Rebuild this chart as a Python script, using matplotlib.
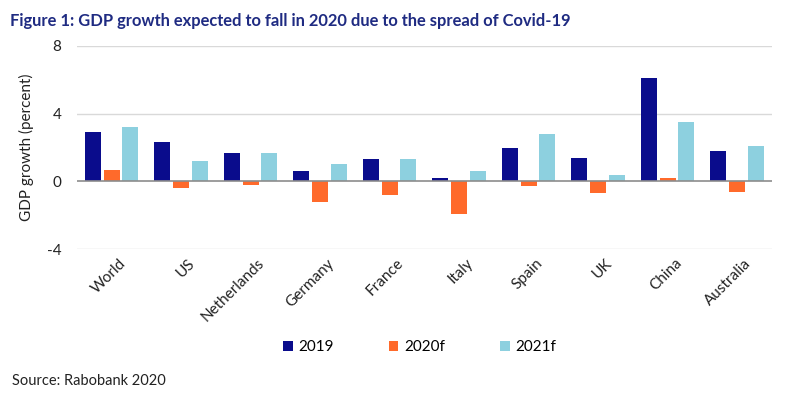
import numpy as np
import matplotlib
matplotlib.use("Agg")
import matplotlib.pyplot as plt

plt.rcParams['font.family'] = ['Lato', 'DejaVu Sans']

countries = ["World", "US", "Netherlands", "Germany", "France",
             "Italy", "Spain", "UK", "China", "Australia"]
gdp_2019 = [2.9, 2.3, 1.7, 0.6, 1.3, 0.2, 2.0, 1.4, 6.1, 1.8]
gdp_2020f = [0.7, -0.4, -0.2, -1.2, -0.8, -1.9, -0.3, -0.7, 0.2, -0.6]
gdp_2021f = [3.2, 1.2, 1.7, 1.0, 1.3, 0.6, 2.8, 0.4, 3.5, 2.1]
series_names = ["2019", "2020f", "2021f"]
colors = ["#0a0c8c", "#ff6a2b", "#8dd0df"]
yticks = [-4, 0, 4, 8]

fig = plt.figure(figsize=(8, 3.96), dpi=100)
ax = fig.add_axes([0.096, 0.371, 0.869, 0.513])

x = np.arange(len(countries))
w = 0.23
step = 0.27
for i, (vals, name, c) in enumerate(zip([gdp_2019, gdp_2020f, gdp_2021f], series_names, colors)):
    ax.bar(x + (i - 1) * step, vals, width=w, color=c, label=name, zorder=3)

ax.set_xlim(-0.5, len(countries) - 0.5)
ax.set_ylim(-4, 8)
ax.set_yticks(yticks)
ax.set_yticklabels([str(t) for t in yticks], fontsize=11, color="#222222")
ax.tick_params(axis='y', length=0, pad=11)
ax.tick_params(axis='x', length=0, pad=5)
for t in yticks:
    if t != 0:
        ax.axhline(t, color="#d9d9d9", lw=1, zorder=1)
ax.axhline(0, color="#8c8c8c", lw=1.2, zorder=4)
for s in ax.spines.values():
    s.set_visible(False)

ax.set_xticks(x + 0.1)
ax.set_xticklabels(countries, rotation=45, ha='right', rotation_mode='anchor',
                   fontsize=11, color="#222222")
ax.set_ylabel("GDP growth (percent)", fontsize=11, color="#222222", labelpad=9)

fig.text(0.012, 0.968, "Figure 1: GDP growth expected to fall in 2020 due to the spread of Covid-19",
         fontsize=11.9, fontweight='bold', color="#1f2b82", va='top', ha='left')
fig.text(0.015, 0.038, "Source: Rabobank 2020", fontsize=10.5, color="#222222",
         va='center', ha='left')

fig.legend(loc='center', bbox_to_anchor=(0.525, 0.123), ncol=3, frameon=False,
           fontsize=11, handlelength=0.6, handleheight=0.6, handletextpad=0.4,
           columnspacing=3.6)

fig.savefig("out.png", dpi=100)
